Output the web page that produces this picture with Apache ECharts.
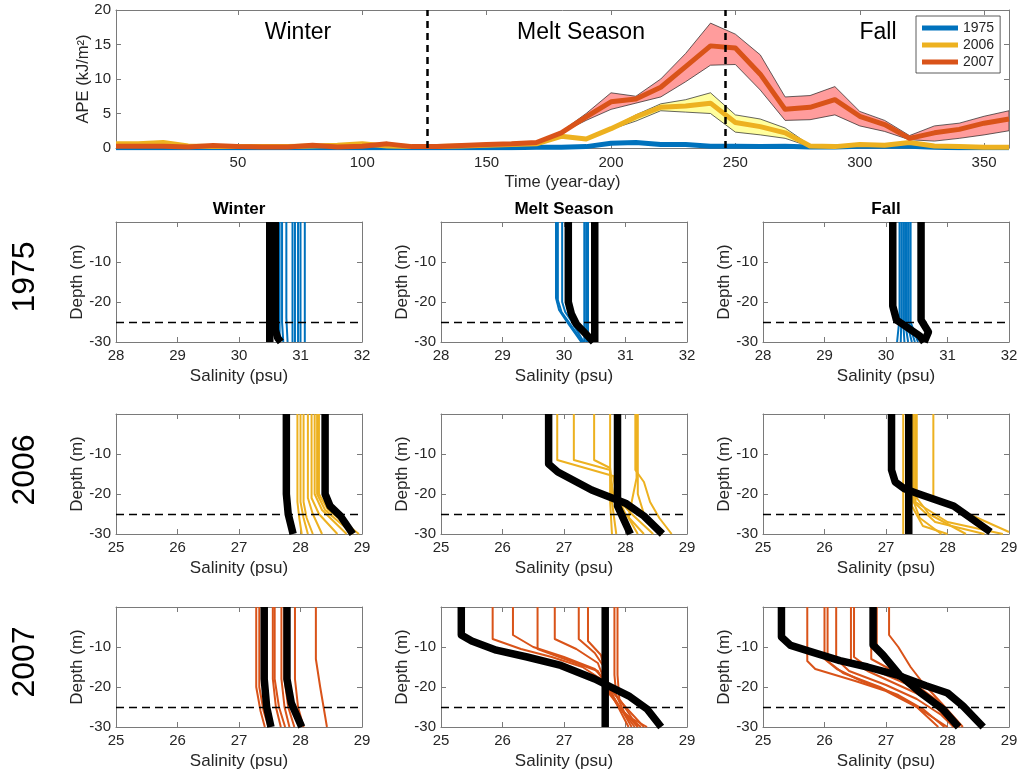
<!DOCTYPE html>
<html><head><meta charset="utf-8">
<script src="https://cdn.jsdelivr.net/npm/echarts@6/dist/echarts.min.js"></script>
<style>html,body{margin:0;padding:0;background:#fff}#c{width:1021px;height:775px}</style>
</head><body><div id="c"></div>
<script>
// ---------------- DATA ----------------
const days = [1,10,20,30,40,50,60,70,80,90,100,110,120,130,140,150,160,170,180,190,200,210,220,230,240,250,260,270,280,290,300,310,320,330,340,350,360];
const ape1975 = [0.05,0.05,0.05,0.05,0.05,0.05,0.05,0.05,0.05,0.05,0.05,0.05,0.05,0.05,0.05,0.05,0.05,0.1,0.1,0.2,0.7,0.8,0.5,0.5,0.25,0.25,0.2,0.25,0.15,0.15,0.25,0.25,0.25,0.1,0.05,0.05,0.05];
const ape2006 = [0.6,0.6,0.8,0.3,0.2,0.2,0.2,0.2,0.3,0.4,0.6,0.3,0.2,0.2,0.3,0.4,0.5,0.6,1.7,1.3,2.8,4.5,5.9,6.1,6.5,3.7,3.1,2.2,0.3,0.2,0.5,0.4,0.8,0.3,0.2,0.1,0.1];
const ape2007 = [0.25,0.25,0.25,0.15,0.35,0.2,0.15,0.15,0.4,0.15,0.25,0.6,0.2,0.2,0.35,0.5,0.6,0.8,2.2,4.5,6.7,7.1,8.8,11.8,14.8,14.5,10.7,5.6,5.9,7.0,4.6,3.4,1.4,2.2,2.7,3.6,4.2];
const bandDays2006 = [190,200,210,220,230,240,250,260,270,280,290];
const ape2006Low  = [1.3,2.7,3.9,5.4,5.2,5.0,2.3,1.9,1.4,0.2,0.2];
const ape2006High = [1.3,2.9,4.8,6.4,7.0,8.0,4.8,4.2,2.9,0.4,0.2];
const bandDays2007 = [170,180,190,200,210,220,230,240,250,260,270,280,290,300,310,320,330,340,350,360];
const ape2007Low  = [0.6,2.2,4.0,5.6,6.5,7.4,9.6,12.0,12.1,8.4,4.0,4.1,4.8,3.2,2.4,1.2,1.0,1.4,1.9,2.5];
const ape2007High = [0.9,2.4,5.0,8.0,7.5,10.0,13.7,18.1,16.5,13.5,7.4,7.6,8.9,5.3,4.0,1.8,3.2,3.6,4.6,5.4];
const timeTicks = [50,100,150,200,250,300,350];
const seasonBounds = [126, 246];
const seasonNames = ['Winter','Melt Season','Fall'];
const years = ['1975','2006','2007'];
const salinityTicks1975 = [28,29,30,31,32];
const salinityTicksOther = [25,26,27,28,29];
const depthTicks = [-30,-20,-10,0];
const mixedLayerDepth = -25;

// profiles: [salinity, depth]
const p1975WinterThin = [
  [[30.66,0],[30.66,-30]],
  [[30.70,0],[30.70,-25],[30.72,-30]],
  [[30.77,0],[30.77,-24],[30.79,-30]],
  [[30.87,0],[30.87,-30]],
  [[30.91,0],[30.91,-30]],
  [[30.96,0],[30.96,-30]],
  [[31.00,0],[31.00,-30]],
  [[31.07,0],[31.07,-30]]
];
const p1975WinterMean = [
  [[30.50,0],[30.50,-30]],
  [[30.59,0],[30.59,-27],[30.63,-29],[30.68,-30]]
];
const p1975MeltThin = [
  [[29.87,0],[29.87,-19],[29.92,-22],[30.05,-25],[30.28,-30]],
  [[29.90,0],[29.90,-19.5],[29.96,-22.5],[30.10,-25.5],[30.30,-30]],
  [[29.97,0],[29.97,-20],[30.02,-22.5],[30.13,-25],[30.32,-30]],
  [[30.33,0],[30.33,-30]],
  [[30.36,0],[30.36,-30]],
  [[30.39,0],[30.39,-30]]
];
const p1975MeltMean = [
  [[30.07,0],[30.07,-20],[30.12,-23],[30.20,-25.5],[30.48,-30]],
  [[30.50,0],[30.50,-30]]
];
const p1975FallThin = [
  [[30.22,0],[30.22,-24],[30.18,-30]],
  [[30.25,0],[30.25,-24],[30.24,-30]],
  [[30.28,0],[30.28,-25],[30.30,-30]],
  [[30.31,0],[30.31,-25],[30.36,-30]],
  [[30.34,0],[30.34,-25],[30.42,-30]],
  [[30.37,0],[30.37,-25],[30.47,-30]],
  [[30.40,0],[30.40,-25],[30.52,-30]]
];
const p1975FallMean = [
  [[30.11,0],[30.11,-21],[30.17,-24.5],[30.55,-28.5],[30.62,-30]],
  [[30.57,0],[30.57,-24.5],[30.69,-27.5],[30.62,-30]]
];
const p2006WinterThin = [
  [[27.95,0],[27.95,-22],[27.98,-26],[28.02,-30]],
  [[28.00,0],[28.00,-22],[28.05,-26],[28.12,-30]],
  [[28.05,0],[28.05,-22],[28.10,-26],[28.20,-30]],
  [[28.12,0],[28.12,-21],[28.20,-25],[28.35,-30]],
  [[28.18,0],[28.18,-21],[28.30,-25],[28.60,-30]],
  [[28.23,0],[28.23,-20],[28.35,-24],[28.75,-30]],
  [[28.27,0],[28.27,-20],[28.40,-24],[28.85,-30]],
  [[28.30,0],[28.30,-20],[28.45,-24],[28.95,-30]]
];
const p2006WinterMean = [
  [[27.77,0],[27.77,-20],[27.80,-25],[27.88,-30]],
  [[28.40,0],[28.40,-20],[28.48,-23],[28.65,-25.5],[28.85,-30]]
];
const p2006MeltThin = [
  [[26.89,0],[26.89,-11.5],[27.80,-15.5],[27.85,-20],[28.00,-25],[28.30,-30]],
  [[27.16,0],[27.16,-11.5],[27.75,-14],[27.80,-20],[28.10,-25],[28.45,-30]],
  [[27.49,0],[27.49,-11.5],[27.75,-13.5],[27.78,-22],[27.85,-30]],
  [[27.75,0],[27.75,-22],[27.78,-30]],
  [[28.16,0],[28.16,-14],[28.30,-17],[28.40,-22],[28.55,-26],[28.75,-30]],
  [[28.20,0],[28.20,-15],[28.20,-20],[28.30,-25],[28.60,-30]],
  [[28.18,0],[28.18,-16],[28.10,-22],[28.05,-26],[28.20,-30]]
];
const p2006MeltMean = [
  [[26.75,0],[26.75,-12.5],[26.90,-14.5],[27.45,-19],[28.00,-22.3],[28.30,-25.5],[28.60,-30]],
  [[27.87,0],[27.87,-23],[28.08,-30]]
];
const p2006FallThin = [
  [[27.28,0],[27.28,-30]],
  [[27.50,0],[27.50,-21],[27.70,-25],[28.30,-30]],
  [[27.77,0],[27.77,-21],[28.20,-24],[29.00,-29.5]],
  [[27.45,0],[27.45,-22],[27.55,-26],[27.90,-30]],
  [[27.45,0],[27.45,-22],[27.80,-27],[28.60,-30]],
  [[27.42,0],[27.42,-23],[27.60,-28],[28.00,-30]],
  [[27.48,0],[27.48,-22],[28.00,-27],[28.90,-30]]
];
const p2006FallMean = [
  [[27.09,0],[27.09,-14],[27.15,-17],[27.30,-18.7],[27.50,-19.8],[28.10,-23],[28.70,-29.5]],
  [[27.37,0],[27.37,-30]]
];
const p2007WinterThin = [
  [[27.28,0],[27.28,-20],[27.35,-26],[27.42,-30]],
  [[27.33,0],[27.33,-20],[27.40,-26],[27.48,-30]],
  [[27.55,0],[27.55,-18],[27.60,-25],[27.68,-30]],
  [[27.58,0],[27.58,-18],[27.65,-25],[27.75,-30]],
  [[27.69,0],[27.69,-18],[27.74,-25],[27.82,-30]],
  [[27.74,0],[27.74,-18],[27.80,-25],[27.90,-30]],
  [[27.91,0],[27.91,-18],[27.96,-25],[28.05,-30]],
  [[28.25,0],[28.25,-13],[28.32,-20],[28.43,-30]]
];
const p2007WinterMean = [
  [[27.41,0],[27.41,-18],[27.45,-25],[27.52,-30]],
  [[27.78,0],[27.78,-18],[27.85,-24],[28.02,-30]]
];
const p2007MeltThin = [
  [[25.84,0],[25.84,-8],[26.30,-10.5],[26.80,-12.5],[27.30,-15],[27.60,-18],[27.75,-22],[27.95,-26],[28.10,-30]],
  [[26.17,0],[26.17,-7],[26.50,-10],[27.00,-12.5],[27.50,-15.5],[27.70,-19],[27.85,-24],[28.15,-30]],
  [[26.57,0],[26.57,-10.5],[27.10,-13.5],[27.55,-16],[27.70,-20],[27.90,-25],[28.20,-30]],
  [[26.85,0],[26.85,-8],[27.20,-10.5],[27.55,-14],[27.70,-20],[27.95,-26],[28.25,-30]],
  [[27.24,0],[27.24,-8],[27.50,-11.5],[27.65,-15],[27.72,-20],[28.00,-25],[28.30,-30]],
  [[27.39,0],[27.39,-8.5],[27.60,-12],[27.70,-18],[27.78,-22],[28.05,-30]],
  [[27.82,0],[27.82,-17],[27.85,-22],[28.00,-27],[28.35,-30]],
  [[27.87,0],[27.87,-17],[27.90,-23],[28.20,-30]]
];
const p2007MeltMean = [
  [[25.33,0],[25.33,-7],[25.50,-8.5],[25.90,-10.8],[26.40,-12.5],[26.95,-14.6],[27.50,-18],[28.05,-22.2],[28.35,-25.5],[28.58,-30]],
  [[27.67,0],[27.67,-30]]
];
const p2007FallThin = [
  [[25.72,0],[25.72,-13.5],[25.85,-15.5],[26.50,-18.5],[27.00,-21],[27.50,-25],[27.85,-30]],
  [[26.00,0],[26.00,-13],[26.20,-15.5],[26.60,-18.5],[27.20,-22],[27.60,-25.5],[27.95,-30]],
  [[26.05,0],[26.05,-13.5],[26.30,-16.5],[26.90,-20],[27.40,-24],[27.80,-28],[28.00,-30]],
  [[26.19,0],[26.19,-13],[26.40,-16],[27.00,-19.5],[27.50,-23],[27.90,-27],[28.10,-30]],
  [[26.43,0],[26.43,-13.5],[26.70,-16],[27.20,-19.5],[27.70,-23],[28.10,-30]],
  [[26.48,0],[26.48,-12.5],[26.70,-15],[27.30,-19],[27.75,-23.5],[28.15,-30]],
  [[26.76,0],[26.76,-13],[27.00,-15],[27.40,-18.5],[27.80,-23],[28.20,-30]],
  [[27.05,0],[27.05,-7],[27.20,-10],[27.40,-15],[27.60,-19],[27.90,-24],[28.25,-30]],
  [[26.85,0],[26.85,-10],[27.05,-14],[27.40,-19],[27.85,-24],[28.15,-30]]
];
const p2007FallMean = [
  [[25.30,0],[25.30,-7.5],[25.45,-9.6],[25.80,-11.3],[26.25,-13.4],[26.70,-15],[27.20,-17.1],[27.65,-19.7],[28.00,-21.5],[28.25,-24.7],[28.58,-30]],
  [[26.79,0],[26.79,-9.5],[26.95,-12],[27.22,-17],[27.55,-21.3],[27.92,-25.5],[28.18,-30]]
];

// ---------------- LAYOUT / STYLE ----------------
const FONT = 'Liberation Sans, Arial, Helvetica, sans-serif';
const AX = '#7a7a7a', TX = '#262626';
const yearColor = {'1975':'#0072BD','2006':'#EDB120','2007':'#D95319'};
const colLeft = [116, 441, 763], colW = 246;
const rowTop = [222, 414, 607], rowH = 120;

const grids = [], xAxes = [], yAxes = [], series = [];

function axisPair(gi, dir, o) {
  const common = {gridIndex: gi, type: 'value', min: o.min, max: o.max, splitLine: {show: false},
    axisLine: {show: true, onZero: false, lineStyle: {color: AX, width: 1}}};
  if (o.interval) common.interval = o.interval;
  const tick = {show: true, inside: true, length: 5, lineStyle: {color: AX, width: 1}};
  if (o.ticks) tick.customValues = o.ticks;
  const lab = {show: true, color: TX, fontSize: o.labelSize, fontFamily: FONT, margin: o.margin};
  if (o.ticks) lab.customValues = o.ticks;
  if (o.formatter) lab.formatter = o.formatter;
  const main = Object.assign({}, common, {
    position: dir === 'x' ? 'bottom' : 'left', axisTick: tick, axisLabel: lab,
    name: o.name, nameLocation: 'middle', nameGap: o.nameGap, nameMoveOverlap: false,
    nameTextStyle: {color: TX, fontSize: o.nameSize, fontFamily: FONT}
  });
  const mirror = Object.assign({}, common, {position: dir === 'x' ? 'top' : 'right', axisTick: tick, axisLabel: {show: false}});
  return [main, mirror];
}

// top grid
grids.push({left: 116, top: 10, width: 893, height: 138});
xAxes.push(...axisPair(0, 'x', {min: 1, max: 360, ticks: timeTicks, labelSize: 15, margin: 7, name: 'Time (year-day)', nameGap: 26, nameSize: 16.5}));
yAxes.push(...axisPair(0, 'y', {min: 0, max: 20, interval: 5, labelSize: 15, margin: 5, name: 'APE (kJ/m²)', nameGap: 24, nameSize: 16.5}));

function bandSeries(bd, lo, hi, fill) {
  return {
    type: 'custom', xAxisIndex: 0, yAxisIndex: 0, silent: true, clip: true,
    data: bd.map((d, i) => [d, lo[i], hi[i]]),
    encode: {x: 0, y: [1, 2]},
    renderItem: (params, api) => {
      if (params.dataIndexInside !== 0) return null;
      const n = params.dataInsideLength, up = [], dn = [];
      for (let i = 0; i < n; i++) {
        up.push(api.coord([api.value(0, i), api.value(2, i)]));
        dn.push(api.coord([api.value(0, i), api.value(1, i)]));
      }
      return {type: 'polygon', shape: {points: up.concat(dn.reverse())},
        style: {fill: fill, stroke: '#222', lineWidth: 0.7}};
    }
  };
}
function apeLine(name, vals, extra) {
  return Object.assign({
    name: name, type: 'line', xAxisIndex: 0, yAxisIndex: 0, symbol: 'none', silent: true,
    data: days.map((d, i) => [d, vals[i]]),
    lineStyle: {color: yearColor[name], width: 5, join: 'round'},
    itemStyle: {color: yearColor[name]}
  }, extra || {});
}
series.push(apeLine('1975', ape1975));
series.push(bandSeries(bandDays2006, ape2006Low, ape2006High, '#FFFF9E'));
series.push(apeLine('2006', ape2006));
series.push(bandSeries(bandDays2007, ape2007Low, ape2007High, '#FF9C9C'));
series.push(apeLine('2007', ape2007, {
  markLine: {silent: true, symbol: 'none', label: {show: false}, z: 10,
    lineStyle: {color: '#000', type: [7, 5], width: 2.5},
    data: seasonBounds.map(b => ({xAxis: b}))}
}));

// profile panels
const profiles = [
  [p1975WinterThin, p1975WinterMean, p1975MeltThin, p1975MeltMean, p1975FallThin, p1975FallMean],
  [p2006WinterThin, p2006WinterMean, p2006MeltThin, p2006MeltMean, p2006FallThin, p2006FallMean],
  [p2007WinterThin, p2007WinterMean, p2007MeltThin, p2007MeltMean, p2007FallThin, p2007FallMean]
];
for (let r = 0; r < 3; r++) {
  const st = r === 0 ? salinityTicks1975 : salinityTicksOther;
  for (let c = 0; c < 3; c++) {
    const gi = grids.length;
    grids.push({left: colLeft[c], top: rowTop[r], width: colW, height: rowH});
    xAxes.push(...axisPair(gi, 'x', {min: st[0], max: st[st.length - 1], interval: 1, labelSize: 15, margin: 6,
      name: 'Salinity (psu)', nameGap: 26, nameSize: 17}));
    yAxes.push(...axisPair(gi, 'y', {min: depthTicks[0], max: depthTicks[depthTicks.length - 1], interval: 10, labelSize: 15, margin: 5,
      formatter: v => (v === 0 ? '' : String(v)), name: 'Depth (m)', nameGap: 30, nameSize: 17}));
    const ax = 2 * gi;
    const thin = profiles[r][2 * c], mean = profiles[r][2 * c + 1];
    const col = yearColor[years[r]];
    thin.forEach((p, k) => series.push({
      type: 'line', xAxisIndex: ax, yAxisIndex: ax, data: p, symbol: 'none', silent: true, z: 2,
      lineStyle: {color: col, width: 2, join: 'round'},
      markLine: k === 0 ? {silent: true, symbol: 'none', label: {show: false},
        lineStyle: {color: '#000', type: [8, 5], width: 1.3}, data: [{yAxis: mixedLayerDepth}]} : undefined
    }));
    mean.forEach(p => series.push({
      type: 'line', xAxisIndex: ax, yAxisIndex: ax, data: p, symbol: 'none', silent: true, z: 4,
      lineStyle: {color: '#000', width: 7.5, join: 'round'}
    }));
  }
}

// texts
const graphics = [];
const seasonTopX = [298, 581, 878];
seasonNames.forEach((s, i) => graphics.push({type: 'text', x: seasonTopX[i], y: 33, z: 20,
  style: {text: s, font: '23px ' + FONT, fill: '#000', align: 'center', verticalAlign: 'middle'}}));
seasonNames.forEach((s, i) => graphics.push({type: 'text', x: colLeft[i] + colW / 2, y: 209, z: 20,
  style: {text: s, font: 'bold 17px ' + FONT, fill: '#000', align: 'center', verticalAlign: 'middle'}}));
const yearLabelY = [277, 470, 662];
years.forEach((y, i) => graphics.push({type: 'text', x: 25, y: yearLabelY[i], rotation: Math.PI / 2, z: 20,
  style: {text: y, font: '32px ' + FONT, fill: '#000', align: 'center', verticalAlign: 'middle'}}));

const chart = echarts.init(document.getElementById('c'), null, {renderer: 'canvas'});
chart.setOption({
  animation: false,
  textStyle: {fontFamily: FONT},
  grid: grids, xAxis: xAxes, yAxis: yAxes, series: series, graphic: graphics,
  legend: {
    left: 916, top: 16, orient: 'vertical', itemWidth: 36, itemHeight: 5, itemGap: 3,
    padding: [5, 6, 4, 6], backgroundColor: '#fff', borderColor: '#333', borderWidth: 0.8,
    textStyle: {color: TX, fontSize: 14, fontFamily: FONT},
    data: years.map(y => ({name: y, icon: 'rect', itemStyle: {color: yearColor[y]}}))
  }
});
</script>
</body></html>
